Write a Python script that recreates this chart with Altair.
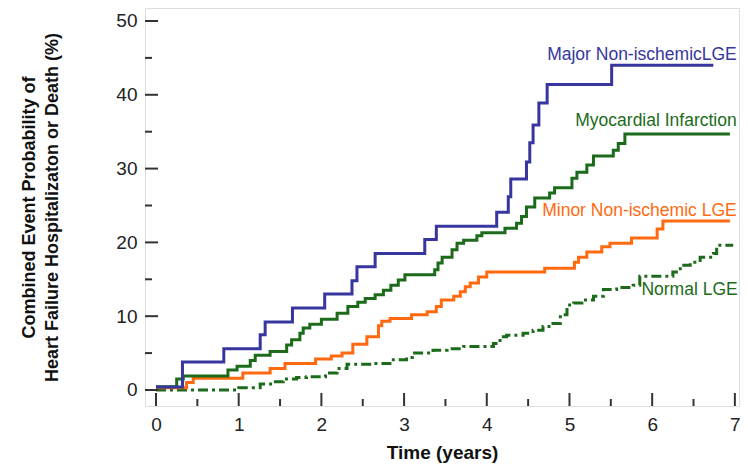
import altair as alt
import pandas as pd

# ---- data ----
major_t = [0, 0.32, 0.82, 1.26, 1.32, 1.65, 2.04, 2.37, 2.43, 2.65, 3.25, 3.39, 4.12, 4.26, 4.29, 4.48, 4.52, 4.56, 4.63, 4.73, 5.51, 6.74]
major_v = [0.4, 3.8, 5.6, 7.5, 9.2, 11.1, 13.0, 14.8, 16.7, 18.5, 20.4, 22.2, 24.1, 26.2, 28.6, 30.9, 33.5, 35.9, 38.9, 41.4, 44.0, 44.0]

mi_t = [0, 0.25, 0.33, 0.87, 0.98, 1.14, 1.2, 1.38, 1.58, 1.64, 1.74, 1.78, 1.86, 2.0, 2.19, 2.32, 2.44, 2.53, 2.65, 2.75, 2.84, 2.93, 3.01, 3.37, 3.41, 3.46, 3.58, 3.64, 3.72, 3.88, 3.94, 4.22, 4.36, 4.42, 4.48, 4.58, 4.76, 4.82, 5.03, 5.09, 5.21, 5.29, 5.53, 5.59, 5.67, 6.94]
mi_v = [0.45, 1.5, 1.9, 2.7, 3.2, 4.0, 4.7, 5.2, 6.1, 6.8, 7.7, 8.4, 8.9, 9.6, 10.4, 11.3, 11.9, 12.4, 12.9, 13.5, 14.2, 14.9, 15.6, 16.3, 17.2, 18.0, 19.0, 19.9, 20.3, 20.9, 21.3, 21.9, 22.6, 23.5, 24.8, 26.0, 26.7, 27.4, 28.7, 29.5, 30.5, 31.7, 32.5, 33.4, 34.7, 34.7]

minor_t = [0, 0.37, 0.45, 1.05, 1.38, 1.56, 1.93, 2.12, 2.25, 2.38, 2.55, 2.69, 2.73, 2.83, 3.09, 3.28, 3.39, 3.45, 3.6, 3.68, 3.74, 3.8, 3.9, 4.0, 4.7, 5.06, 5.11, 5.21, 5.39, 5.49, 5.75, 6.06, 6.13, 6.94]
minor_v = [0.3, 1.0, 1.6, 2.3, 2.9, 3.6, 4.2, 4.6, 5.0, 6.2, 7.2, 8.7, 9.3, 9.7, 10.2, 10.6, 11.3, 12.2, 12.7, 13.3, 14.0, 14.5, 15.3, 16.0, 16.5, 17.3, 18.0, 18.7, 19.4, 19.9, 20.6, 21.8, 22.9, 22.9]

normal_t = [0, 1.0, 1.26, 1.42, 1.54, 1.7, 1.82, 2.05, 2.19, 2.31, 2.63, 2.87, 3.03, 3.1, 3.35, 3.52, 3.72, 4.08, 4.16, 4.24, 4.44, 4.56, 4.68, 4.8, 4.89, 4.97, 5.05, 5.15, 5.29, 5.41, 5.57, 5.77, 5.85, 6.25, 6.34, 6.46, 6.58, 6.74, 6.78, 6.98]
normal_v = [0, 0.3, 0.8, 1.1, 1.5, 1.7, 1.8, 2.3, 2.9, 3.5, 3.6, 4.1, 4.4, 5.0, 5.4, 5.6, 5.9, 6.3, 7.2, 7.4, 7.7, 8.1, 8.6, 9.0, 10.2, 11.5, 11.8, 12.2, 12.7, 13.6, 13.9, 14.2, 15.4, 16.0, 16.9, 17.3, 18.0, 18.5, 19.6, 19.6]

label_names = ["Major Non-ischemicLGE", "Myocardial Infarction", "Minor Non-ischemic LGE", "Normal LGE"]
label_t = [4.73, 5.07, 4.67, 5.87]
label_v = [45.4, 36.4, 24.3, 13.5]

x_major = [0, 1, 2, 3, 4, 5, 6, 7]
x_minor = [0.5, 1.5, 2.5, 3.5, 4.5, 5.5, 6.5]
y_major = [0, 10, 20, 30, 40, 50]
y_minor = [5, 15, 25, 35, 45]

BLUE = "#36369e"
GREEN = "#1b6b1b"
ORANGE = "#ff6a10"
AX = "#333333"
FONT = "Liberation Sans, Arial, sans-serif"

W, H = 594, 398
xs = alt.Scale(domain=[-0.133, 7.05], nice=False, zero=False)
ys = alt.Scale(domain=[-2.17, 51.76], nice=False, zero=False)

def series(t, v):
    return pd.DataFrame({"t": t, "v": v})

xenc = alt.X("t:Q", scale=xs,
             axis=alt.Axis(values=x_major, format="d", ticks=False, domain=False, grid=False,
                           labelFontSize=19, labelFont=FONT, labelColor="#222",
                           labelPadding=9, title="Time (years)", titleFont=FONT,
                           titleFontSize=19, titleFontWeight="bold", titleColor="#111",
                           titlePadding=9))
yenc = alt.Y("v:Q", scale=ys,
             axis=alt.Axis(values=y_major, format="d", ticks=False, domain=False, grid=False,
                           labelFontSize=19, labelFont=FONT, labelColor="#222",
                           labelPadding=8,
                           title=["Combined Event Probability of", "Heart Failure Hospitalizaton or Death (%)"],
                           titleFont=FONT, titleFontSize=18, titleFontWeight="bold",
                           titleColor="#111", titlePadding=54, titleLineHeight=23))

def line(t, v, color, dash=None):
    kw = dict(interpolate="step-after", color=color, strokeWidth=3, clip=True)
    if dash:
        kw["strokeDash"] = dash
    return alt.Chart(series(t, v)).mark_line(**kw).encode(x=xenc, y=yenc)

normal = line(normal_t, normal_v, GREEN, [10, 4, 3, 4])
minor = line(minor_t, minor_v, ORANGE)
mi = line(mi_t, mi_v, GREEN)
major = line(major_t, major_v, BLUE)

labels = alt.Chart(pd.DataFrame({"t": label_t, "v": label_v, "name": label_names})).mark_text(
    align="left", baseline="middle", fontSize=17.5, font=FONT
).encode(
    x=alt.X("t:Q", scale=xs),
    y=alt.Y("v:Q", scale=ys),
    text="name:N",
    color=alt.Color("name:N", scale=alt.Scale(domain=label_names, range=[BLUE, GREEN, ORANGE, GREEN]), legend=None),
)

xmaj = alt.Chart(pd.DataFrame({"t": x_major})).mark_rule(color=AX, strokeWidth=2).encode(
    x=alt.X("t:Q", scale=xs), y=alt.value(H), y2=alt.value(H - 13))
xmin = alt.Chart(pd.DataFrame({"t": x_minor})).mark_rule(color=AX, strokeWidth=2).encode(
    x=alt.X("t:Q", scale=xs), y=alt.value(H), y2=alt.value(H - 7))
ymaj = alt.Chart(pd.DataFrame({"v": y_major})).mark_rule(color=AX, strokeWidth=2).encode(
    y=alt.Y("v:Q", scale=ys), x=alt.value(0), x2=alt.value(13))
ymin = alt.Chart(pd.DataFrame({"v": y_minor})).mark_rule(color=AX, strokeWidth=2).encode(
    y=alt.Y("v:Q", scale=ys), x=alt.value(0), x2=alt.value(7))

chart = alt.layer(normal, minor, mi, major, labels, xmaj, xmin, ymaj, ymin).properties(
    width=W, height=H,
    autosize=alt.AutoSizeParams(type="none"),
    padding={"left": 137, "top": 0, "right": 1, "bottom": 60},
).configure_view(stroke=AX, strokeWidth=2.5).configure(background="white")

chart.save("out.html", embed_options={"renderer": "svg", "actions": False})
